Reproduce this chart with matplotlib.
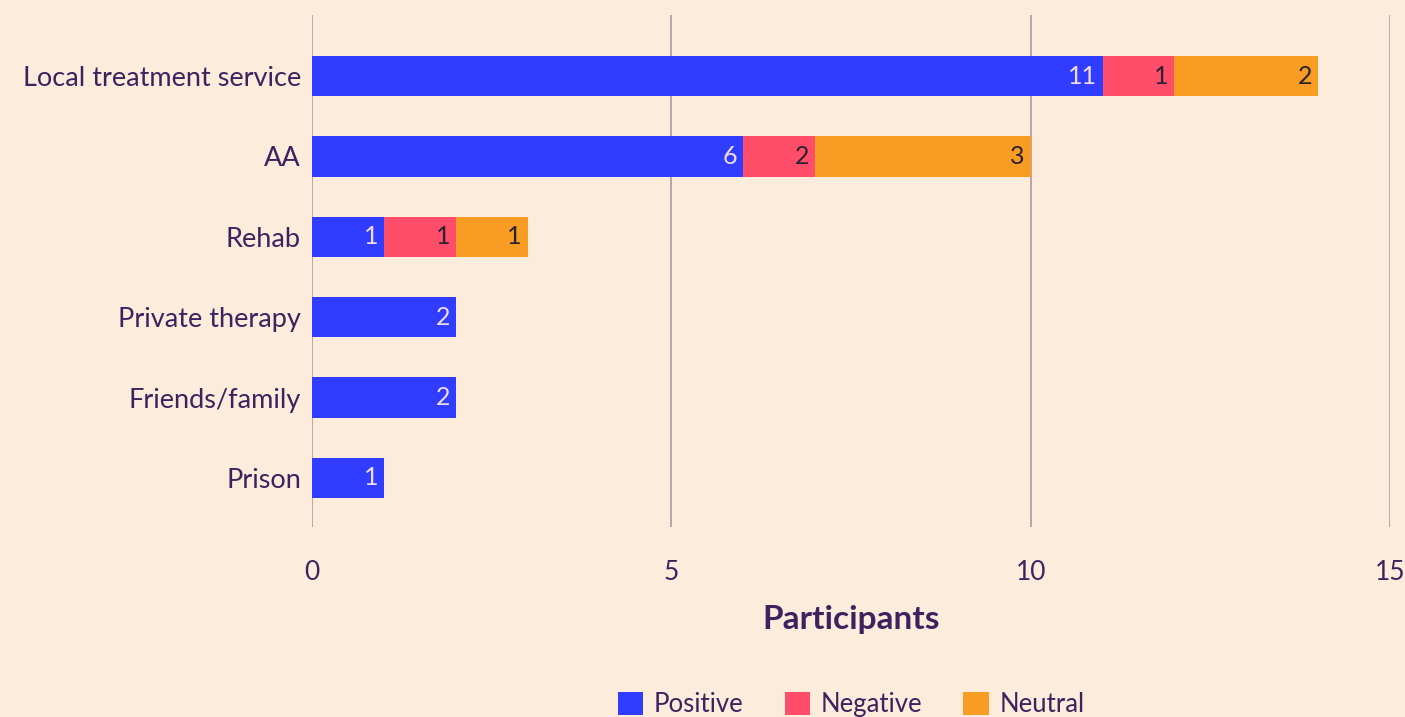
import numpy as np
import matplotlib
matplotlib.use('Agg')
import matplotlib.pyplot as plt

# data (bar lengths as drawn, labels as printed)
categories = ['Local treatment service', 'AA', 'Rehab', 'Private therapy', 'Friends/family', 'Prison']
positive = [11, 6, 1, 2, 2, 1]
negative = [1, 1, 1, 0, 0, 0]
neutral = [2, 3, 1, 0, 0, 0]
positive_labels = ['11', '6', '1', '2', '2', '1']
negative_labels = ['1', '2', '1', '', '', '']
neutral_labels = ['2', '3', '1', '', '', '']
series_names = ['Positive', 'Negative', 'Neutral']
x_ticks = [0, 5, 10, 15]

bg = '#FDECDB'
text_col = '#3B2360'
colors = ['#303CFF', '#FF4D6A', '#F89C24']
label_cols = ['#F0DCE8', '#2A2230', '#2A2230']

plt.rcParams['font.family'] = ['Lato', 'DejaVu Sans']

fig = plt.figure(figsize=(14.05, 7.17), dpi=100, facecolor=bg)
ax = fig.add_axes([312/1405, 1 - 527/717, (1390-312)/1405, (527-15)/717])
ax.set_facecolor(bg)

y = np.arange(len(categories))
left = np.zeros(len(categories))
for vals, labs, name, c, lc in zip([positive, negative, neutral],
                                   [positive_labels, negative_labels, neutral_labels],
                                   series_names, colors, label_cols):
    vals = np.array(vals)
    ax.barh(y, vals, left=left, height=0.5, color=c, label=name, zorder=3)
    for i, v in enumerate(vals):
        if v > 0:
            ax.text(left[i] + v - 0.08, y[i], labs[i], ha='right', va='center',
                    color=lc, fontsize=18, zorder=4)
    left = left + vals

ax.set_xlim(0, 15)
ax.set_ylim(5.61, -0.76)
ax.set_yticks(y)
ax.set_yticklabels(categories, fontsize=19.5, color=text_col)
ax.set_xticks(x_ticks)
ax.set_xticklabels([str(t) for t in x_ticks], fontsize=19, color=text_col)
ax.tick_params(axis='both', length=0)
ax.tick_params(axis='x', pad=24)
ax.tick_params(axis='y', pad=8)
for s in ax.spines.values():
    s.set_visible(False)
ax.grid(axis='x', color='#B4A0A8', linewidth=1.3, zorder=0)
ax.grid(axis='y', visible=False)

ax.set_xlabel('Participants', fontsize=24, fontweight='bold', color=text_col, labelpad=14)

fig.legend(loc='lower center', bbox_to_anchor=(851/1405, -0.032), ncol=3, frameon=False,
           fontsize=18.5, labelcolor=text_col, handlelength=1.0, handleheight=1.0,
           handletextpad=0.4, columnspacing=1.6)

fig.savefig('out.png', dpi=100, facecolor=bg)
